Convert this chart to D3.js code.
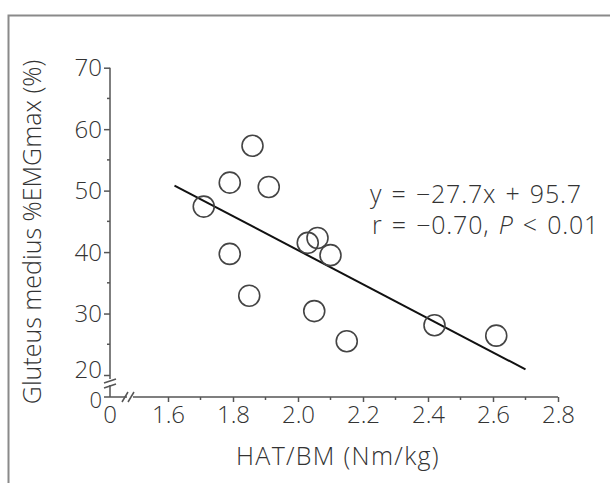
<!DOCTYPE html>
<html>
<head>
<meta charset="utf-8">
<script src="https://cdn.jsdelivr.net/npm/d3@7"></script>
<style>
  body { margin: 0; background: #fff; }
  text { font-family: "Open Sans", "Noto Sans", sans-serif; font-weight: 300; fill: #333; }
</style>
</head>
<body>
<svg id="chart" width="610" height="483"></svg>
<script>
// values
const hatBm = [1.86, 1.79, 1.91, 1.71, 2.03, 2.06, 2.10, 1.79, 1.85, 2.05, 2.15, 2.42, 2.61];
const emg   = [57.3, 51.3, 50.6, 47.4, 41.5, 42.3, 39.5, 39.7, 32.9, 30.4, 25.5, 28.1, 26.4];
const xTicks = [1.6, 1.8, 2.0, 2.2, 2.4, 2.6, 2.8];
const yTicks = [20, 30, 40, 50, 60, 70];
const fitRange = [1.62, 2.70];
const slope = -27.7, intercept = 95.7;

const svg = d3.select("#chart");

// outer frame (cut off on right and bottom)
svg.append("path")
    .attr("d", "M8.5,483 V15.5 H610")
    .attr("fill", "none")
    .attr("stroke", "#8a8a8a")
    .attr("stroke-width", 2);

const x0 = 110, yBase = 397;
const x = d3.scaleLinear().domain([1.6, 2.8]).range([168, 558]);
const y = d3.scaleLinear().domain([20, 70]).range([375, 67.7]);

const axisColor = "#555";
const fs = 24;

// x axis
const gx = svg.append("g").attr("transform", `translate(0,${yBase})`);
gx.call(d3.axisBottom(x).tickValues(xTicks).tickFormat(d3.format(".1f")).tickSize(5).tickSizeOuter(0))
gx.select(".domain").remove();
gx.selectAll(".tick line").attr("stroke", axisColor).attr("stroke-width", 1.5);
gx.selectAll(".tick text").attr("font-size", fs).attr("y", 3).attr("dy", "0.95em").style("fill", "#333");
gx.call(g => g.selectAll(".minor").data(d3.range(1.7, 2.8, 0.2)).join("line")
    .attr("class", "minor")
    .attr("x1", d => x(d)).attr("x2", d => x(d))
    .attr("y1", 0).attr("y2", 3)
    .attr("stroke", axisColor).attr("stroke-width", 1.5));
gx.append("line").attr("x1", x0).attr("x2", 127).attr("stroke", axisColor).attr("stroke-width", 1.5);
gx.append("line").attr("x1", 133).attr("x2", x(2.8)).attr("stroke", axisColor).attr("stroke-width", 1.5);
gx.selectAll(".brk").data([125, 131]).join("line")
    .attr("class", "brk")
    .attr("x1", d => d - 3).attr("x2", d => d + 3)
    .attr("y1", 5).attr("y2", -5)
    .attr("stroke", axisColor).attr("stroke-width", 1.5);
gx.append("text").attr("x", x0).attr("y", 3).attr("dy", "0.95em")
    .attr("text-anchor", "middle").attr("font-size", fs).text("0");

// y axis
const gy = svg.append("g").attr("transform", `translate(${x0},0)`);
gy.call(d3.axisLeft(y).tickValues(yTicks).tickSize(6).tickSizeOuter(0));
gy.select(".domain").remove();
gy.selectAll(".tick line").attr("stroke", axisColor).attr("stroke-width", 1.5);
gy.selectAll(".tick text").attr("font-size", fs).attr("x", -8).attr("dy", "0.34em").style("fill", "#333");
gy.selectAll(".tick").filter(d => d === 20).select("text").attr("dy", "0.12em");
gy.selectAll(".minor").data(d3.range(25, 70, 10)).join("line")
    .attr("class", "minor")
    .attr("x1", -3).attr("x2", 0)
    .attr("y1", d => y(d)).attr("y2", d => y(d))
    .attr("stroke", axisColor).attr("stroke-width", 1.5);
gy.append("line").attr("y1", y(70)).attr("y2", 379).attr("stroke", axisColor).attr("stroke-width", 1.5);
gy.append("line").attr("y1", 385).attr("y2", yBase).attr("stroke", axisColor).attr("stroke-width", 1.5);
gy.selectAll(".brk").data([381, 386]).join("line")
    .attr("class", "brk")
    .attr("x1", -6).attr("x2", 6)
    .attr("y1", d => d + 2).attr("y2", d => d - 2)
    .attr("stroke", axisColor).attr("stroke-width", 1.5);
gy.append("line").attr("x1", -6).attr("x2", 0).attr("y1", yBase).attr("y2", yBase)
    .attr("stroke", axisColor).attr("stroke-width", 1.5);
gy.append("text").attr("x", -8).attr("y", yBase).attr("dy", "0.5em")
    .attr("text-anchor", "end").attr("font-size", 22).text("0");

// axis titles
svg.append("text")
    .attr("x", 338).attr("y", 465)
    .attr("text-anchor", "middle").attr("font-size", 25)
    .attr("letter-spacing", 1.3)
    .text("HAT/BM (Nm/kg)");
svg.append("text")
    .attr("transform", "translate(41,232) rotate(-90)")
    .attr("text-anchor", "middle").attr("font-size", 25)
    .text("Gluteus medius %EMGmax (%)");

// regression line
svg.append("line")
    .attr("x1", x(fitRange[0])).attr("y1", y(slope * fitRange[0] + intercept))
    .attr("x2", x(fitRange[1])).attr("y2", y(slope * fitRange[1] + intercept))
    .attr("stroke", "#111").attr("stroke-width", 2);

// points
svg.append("g")
    .selectAll("circle")
    .data(hatBm.map((d, i) => [d, emg[i]]))
    .join("circle")
    .attr("cx", d => x(d[0]))
    .attr("cy", d => y(d[1]))
    .attr("r", 10.5)
    .attr("fill", "none")
    .attr("stroke", "#444")
    .attr("stroke-width", 1.6);

// equation
const eq = svg.append("g").attr("font-size", 25)
    .attr("letter-spacing", 0.8).attr("word-spacing", 2);
eq.append("text").attr("x", 370).attr("y", 203).attr("xml:space", "preserve")
    .text("y = \u221227.7x + 95.7");
const t2 = eq.append("text").attr("x", 372).attr("y", 234).attr("xml:space", "preserve");
t2.append("tspan").text("r = \u22120.70, ");
t2.append("tspan").attr("font-style", "italic").text("P");
t2.append("tspan").text(" < 0.01");
</script>
</body>
</html>
